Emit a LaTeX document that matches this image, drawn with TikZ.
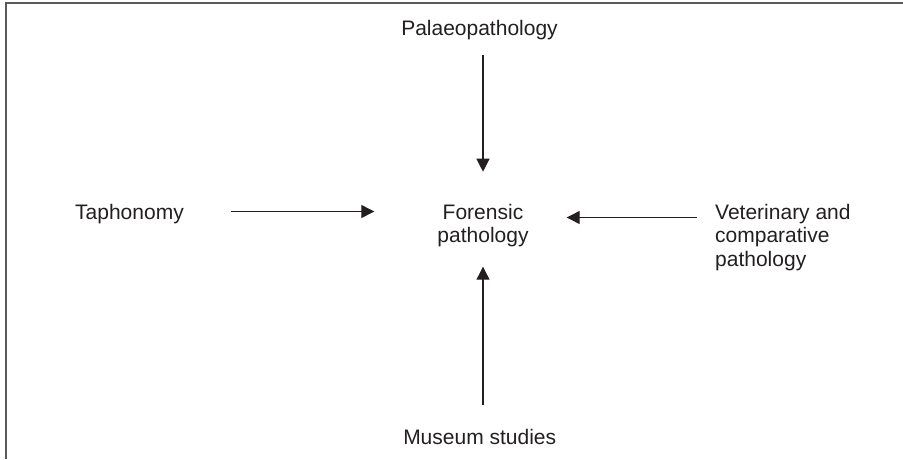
\documentclass[tikz,border=0pt]{standalone}
\usepackage{fontspec}
\setmainfont{Liberation Sans}
\usetikzlibrary{arrows.meta,calc}
\definecolor{ink}{HTML}{231F20}
\definecolor{rule}{HTML}{5A5A5A}
\begin{document}
\begin{tikzpicture}[x=1pt,y=-1pt,
  label/.style={inner sep=0pt,text=ink,font=\fontsize{21}{23.7}\selectfont},
  arr/.style={draw=ink,line width=1.2pt,-{Triangle[length=13pt,width=13pt]}},
  frame/.style={draw=rule,line width=1.6pt}]
\useasboundingbox (0,0) rectangle (903,459);
% open frame: top and left edges only
\draw[frame] (6,459) -- (6,3) -- (903,3);

\node[label,anchor=base] (pal) at (479.5,35.7) {Palaeopathology};
\node[label,anchor=base west] (tap) at (75,219.3) {Taphonomy};
\node[label,anchor=base] (mus) at (479.7,444) {Museum studies};
% multi-line nodes: base anchor sits on the last line
\node[label,align=center,anchor=base] (fp) at (483,242.7) {Forensic\\pathology};
\node[label,align=left,anchor=base west] (vet) at (715,266.4) {Veterinary and\\comparative\\pathology};

% influences converging on forensic pathology
\draw[arr] ($(pal.base)+(3.5,19.3)$) -- ($(pal.base)+(3.5,136)$);
\draw[arr] ($(tap.base west)+(155.7,-7.8)$) -- ($(tap.base west)+(299.3,-7.8)$);
\draw[arr] ($(vet.base west)+(-18,-48.9)$) -- ($(vet.base west)+(-148.3,-48.9)$);
\draw[arr] ($(mus.base)+(3.3,-39)$) -- ($(mus.base)+(3.3,-177.3)$);
\end{tikzpicture}
\end{document}
